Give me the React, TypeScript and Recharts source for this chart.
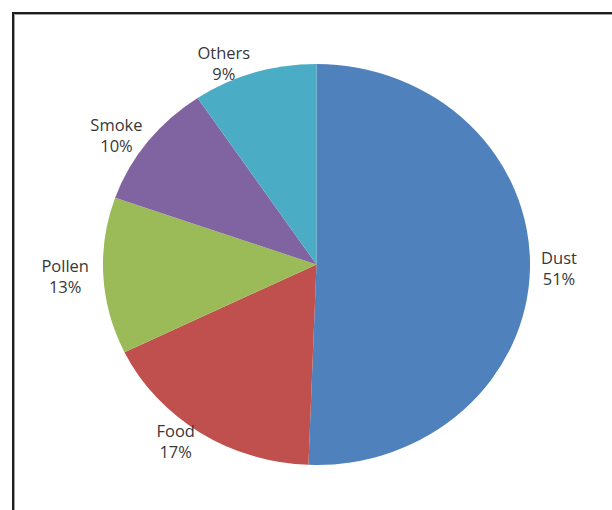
import { PieChart, Pie, Cell } from 'recharts'

const categories = ['Dust', 'Food', 'Pollen', 'Smoke', 'Others']
// slice sizes; labels show them rounded
const shares = [50.6, 17.2, 12.6, 10.2, 9.4]
const colors = ['#4F81BD', '#C0504D', '#9BBB59', '#8064A2', '#4BACC6']

const data = categories.map((name, i) => ({ name, value: shares[i] }))

const RADIAN = Math.PI / 180
const STRETCH = 1.065
const MARGIN = 5

// Outside labels: two centred lines, the block sits beside the slice
const renderLabel = (props: any) => {
  const { cx, cy, midAngle, outerRadius, name, value } = props
  const pct = `${Math.round(value)}%`
  const r = outerRadius + 10
  const cos = Math.cos(-midAngle * RADIAN)
  const sin = Math.sin(-midAngle * RADIAN)
  const half = (Math.max(name.length, pct.length) * 8.6) / 2
  const x = cx + r * cos + (cos >= 0 ? half : -half)
  const y = cy + r * sin
  return (
    <text
      x={x}
      y={y}
      textAnchor="middle"
      fill="#383838"
      fontFamily="'Open Sans', sans-serif"
      fontSize={15.5}
    >
      <tspan x={x} dy={-4}>{name}</tspan>
      <tspan x={x} dy={21}>{pct}</tspan>
    </text>
  )
}

export default function App() {
  return (
    <div
      style={{
        position: 'absolute',
        left: 0,
        top: 0,
        width: 612,
        height: 510,
        overflow: 'hidden',
        background: '#fff'
      }}
    >
      <div
        style={{
          position: 'absolute',
          left: 12,
          top: 12,
          width: 700,
          height: 600,
          border: '2px solid #1e1e1e',
          boxShadow: 'inset 0 0 0 1px #a0a0a0'
        }}
      />
      <div
        style={{
          position: 'absolute',
          left: 0,
          top: 0,
          transform: `scaleX(${STRETCH})`,
          transformOrigin: '316.5px 264.5px'
        }}
      >
        <PieChart
          width={612}
          height={510}
          margin={{ top: MARGIN, right: MARGIN, bottom: MARGIN, left: MARGIN }}
        >
          <Pie
            data={data}
            dataKey="value"
            nameKey="name"
            cx={316.5 - MARGIN}
            cy={264.5 - MARGIN}
            outerRadius={200.5}
            startAngle={90}
            endAngle={-270}
            stroke="none"
            label={renderLabel}
            labelLine={false}
            isAnimationActive={false}
          >
            {data.map((d, i) => (
              <Cell key={d.name} fill={colors[i]} />
            ))}
          </Pie>
        </PieChart>
      </div>
    </div>
  )
}
